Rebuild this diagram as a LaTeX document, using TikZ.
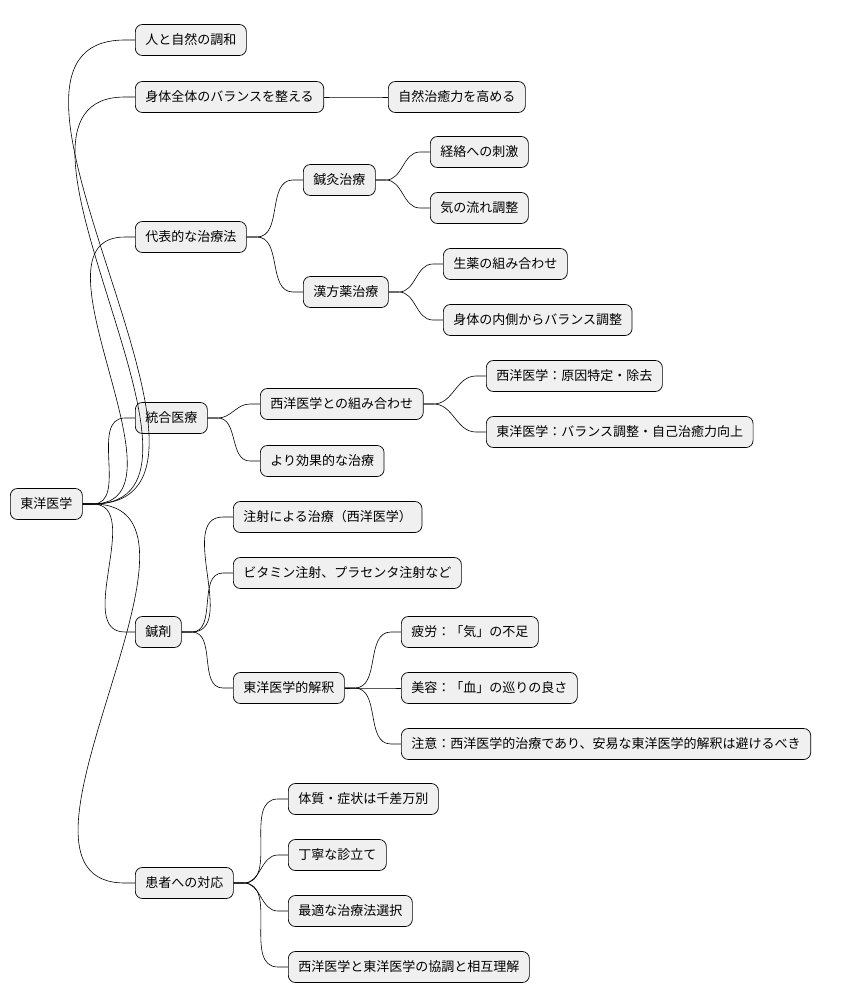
\documentclass[tikz,border=0pt]{standalone}
\usepackage{fontspec}
\setmainfont{Noto Sans CJK JP}
\tikzset{
  topic/.style={draw=black, line width=0.7pt, fill=black!6, rounded corners=7pt,
    anchor=west, inner xsep=10pt, minimum height=31pt, font=\fontsize{13}{15}\selectfont},
  link/.style={draw=black, line width=0.6pt}
}
\begin{document}
\begin{tikzpicture}[x=1pt,y=1pt]
    \useasboundingbox (0,0) rectangle (852,-1006);
    % root
    \node[topic] (root) at (10,-504) {東洋医学};
    % first level
    \node[topic] (harmony) at (135,-40) {人と自然の調和};
    \node[topic] (balance) at (135,-97) {身体全体のバランスを整える};
    \node[topic] (methods) at (135,-237) {代表的な治療法};
    \node[topic] (integr) at (135,-418) {統合医療};
    \node[topic] (shinzai) at (135,-632) {鍼剤};
    \node[topic] (patient) at (135,-883) {患者への対応};
    % second level
    \node[topic] (heal) at (388,-97) {自然治癒力を高める};
    \node[topic] (acu) at (303,-180) {鍼灸治療};
    \node[topic] (kampo) at (303,-292) {漢方薬治療};
    \node[topic] (combo) at (260,-404) {西洋医学との組み合わせ};
    \node[topic] (effect) at (260,-461) {より効果的な治療};
    \node[topic] (inject) at (233,-517) {注射による治療（西洋医学）};
    \node[topic] (vitamin) at (233,-573) {ビタミン注射、プラセンタ注射など};
    \node[topic] (interp) at (233,-688) {東洋医学的解釈};
    \node[topic] (const) at (288,-799) {体質・症状は千差万別};
    \node[topic] (diag) at (288,-855) {丁寧な診立て};
    \node[topic] (choice) at (288,-911) {最適な治療法選択};
    \node[topic] (coop) at (288,-967) {西洋医学と東洋医学の協調と相互理解};
    % third level
    \node[topic] (meridian) at (430,-152) {経絡への刺激};
    \node[topic] (qiflow) at (430,-208) {気の流れ調整};
    \node[topic] (herbs) at (443,-264) {生薬の組み合わせ};
    \node[topic] (inner) at (443,-320) {身体の内側からバランス調整};
    \node[topic] (west) at (486,-376) {西洋医学：原因特定・除去};
    \node[topic] (east) at (486,-432) {東洋医学：バランス調整・自己治癒力向上};
    \node[topic] (fatigue) at (401,-632) {疲労：「気」の不足};
    \node[topic] (beauty) at (401,-688) {美容：「血」の巡りの良さ};
    \node[topic] (caution) at (401,-744) {注意：西洋医学的治療であり、安易な東洋医学的解釈は避けるべき};
    % connectors
    \foreach \a/\b in {root/harmony, root/balance, root/methods, root/integr, root/shinzai, root/patient,
      balance/heal, methods/acu, methods/kampo, acu/meridian, acu/qiflow, kampo/herbs, kampo/inner,
      integr/combo, integr/effect, combo/west, combo/east,
      shinzai/inject, shinzai/vitamin, shinzai/interp, interp/fatigue, interp/beauty, interp/caution,
      patient/const, patient/diag, patient/choice, patient/coop}
      \draw[link] (\a.east) -- ++(10,0) to[out=0,in=180] ([xshift=-10pt]\b.west) -- (\b.west);
\end{tikzpicture}
\end{document}
